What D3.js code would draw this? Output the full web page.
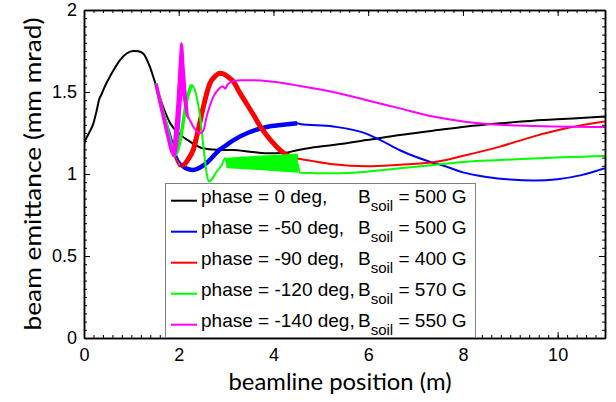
<!DOCTYPE html>
<html>
  <head>
    <title>Beam emittance</title>
    <script type="text/javascript" src="https://cdn.jsdelivr.net/npm/d3@7"></script>
    <style>
      body { margin: 0; background: white; }
      .tick text { font-family: "Liberation Sans", Arial, sans-serif; font-size: 18px; fill: black; }
      .title { font-family: Lato, "Open Sans", sans-serif; font-size: 24px; fill: black; }
      .legend text { font-family: "Liberation Sans", Arial, sans-serif; font-size: 19px; fill: black; }
    </style>
  </head>

  <body>
    <svg width="616" height="402" class="chart"></svg>

    <script type="text/javascript">
      // values
      var blackX = [0, 0.02, 0.07, 0.2, 0.27, 0.32, 0.36, 0.45, 0.55, 0.76, 0.9, 1.04, 1.15, 1.25, 1.39, 1.53, 1.67, 1.82, 2.03, 2.24, 2.51, 2.8, 3.15, 3.5, 3.86, 4.2, 4.5, 4.8, 5.26, 5.97, 6.67, 7.37, 8.08, 8.78, 9.48, 10.2, 11];
      var blackY = [1.18, 1.2, 1.23, 1.31, 1.39, 1.455, 1.48, 1.54, 1.595, 1.695, 1.735, 1.75, 1.748, 1.735, 1.655, 1.53, 1.41, 1.31, 1.24, 1.197, 1.157, 1.148, 1.146, 1.136, 1.126, 1.128, 1.145, 1.16, 1.177, 1.207, 1.238, 1.264, 1.29, 1.309, 1.325, 1.337, 1.35];

      var blueX = [1.52, 1.6, 1.7, 1.8, 1.9, 1.96, 2.05, 2.15, 2.3, 2.45, 2.6, 2.75, 2.85, 3.0, 3.15, 3.5, 3.86, 4.2, 4.5, 4.56, 5.26, 5.97, 6.3, 6.67, 7.0, 7.3, 7.6, 8.0, 8.5, 9.0, 9.5, 10, 10.5, 11];
      var blueY = [1.54, 1.45, 1.35, 1.26, 1.16, 1.105, 1.06, 1.035, 1.025, 1.04, 1.07, 1.115, 1.145, 1.175, 1.205, 1.256, 1.287, 1.3, 1.31, 1.305, 1.29, 1.245, 1.2, 1.145, 1.105, 1.075, 1.05, 1.01, 0.982, 0.966, 0.96, 0.968, 0.993, 1.035];

      var redX = [1.52, 1.6, 1.7, 1.8, 1.9, 1.98, 2.03, 2.1, 2.2, 2.31, 2.42, 2.52, 2.6, 2.66, 2.75, 2.87, 2.95, 3.05, 3.15, 3.3, 3.43, 3.6, 3.72, 3.86, 4.0, 4.14, 4.28, 4.42, 4.5, 4.8, 5.26, 5.97, 6.67, 7.37, 8.08, 8.78, 9.48, 10.2, 11];
      var redY = [1.54, 1.43, 1.32, 1.21, 1.12, 1.065, 1.045, 1.05, 1.09, 1.15, 1.28, 1.41, 1.5, 1.553, 1.59, 1.615, 1.61, 1.59, 1.565, 1.49, 1.43, 1.35, 1.29, 1.235, 1.187, 1.146, 1.116, 1.1, 1.095, 1.08, 1.059, 1.047, 1.057, 1.071, 1.116, 1.167, 1.228, 1.28, 1.32];

      var greenX = [1.52, 1.6, 1.75, 1.85, 1.92, 2.03, 2.17, 2.27, 2.38, 2.45, 2.52, 2.59, 2.64, 2.72, 2.8, 2.9, 2.98, 3.02, 3.3, 3.6, 3.9, 4.2, 4.5, 4.56, 5.26, 5.97, 6.67, 7.37, 8.08, 8.78, 9.48, 11];
      var greenY = [1.553, 1.45, 1.29, 1.17, 1.116, 1.207, 1.45, 1.543, 1.47, 1.35, 1.17, 1.004, 0.954, 0.975, 1.015, 1.05, 1.096, 1.065, 1.065, 1.068, 1.07, 1.068, 1.065, 1.008, 1.004, 1.014, 1.035, 1.055, 1.075, 1.085, 1.095, 1.11];
      // oscillating band of the green curve
      var greenBandX = [3.02, 3.3, 3.6, 3.9, 4.2, 4.5];
      var greenBandLo = [1.04, 1.035, 1.03, 1.025, 1.018, 1.012];
      var greenBandHi = [1.095, 1.1, 1.105, 1.11, 1.115, 1.12];

      var magentaX = [1.52, 1.6, 1.7, 1.78, 1.85, 1.92, 1.99, 2.04, 2.08, 2.13, 2.17, 2.25, 2.35, 2.45, 2.52, 2.59, 2.73, 2.85, 2.93, 2.98, 3.03, 3.1, 3.3, 3.6, 4.0, 4.56, 5.26, 5.97, 6.67, 7.37, 8.08, 8.78, 9.5, 11];
      var magentaY = [1.55, 1.45, 1.32, 1.22, 1.14, 1.11, 1.38, 1.58, 1.64, 1.47, 1.38, 1.32, 1.27, 1.248, 1.265, 1.35, 1.47, 1.52, 1.535, 1.52, 1.545, 1.56, 1.572, 1.572, 1.562, 1.537, 1.5, 1.45, 1.4, 1.35, 1.317, 1.3, 1.293, 1.287];
      // spiky part of the magenta curve
      var magentaBandX = [1.88, 1.93, 1.98, 2.02, 2.05, 2.08, 2.11, 2.15, 2.19];
      var magentaBandLo = [1.11, 1.12, 1.2, 1.32, 1.45, 1.5, 1.45, 1.38, 1.34];
      var magentaBandHi = [1.16, 1.3, 1.5, 1.7, 1.8, 1.78, 1.65, 1.5, 1.38];

      var legendPhase = ['phase = 0 deg,', 'phase = -50 deg,', 'phase = -90 deg,', 'phase = -120 deg,', 'phase = -140 deg,'];
      var legendField = ['500', '500', '400', '570', '550'];
      var colors = ['#000000', '#0000ff', '#ff0000', '#00ff00', '#ff00ff'];

      var xTicks = [0, 2, 4, 6, 8, 10];
      var yTicks = [0, 0.5, 1, 1.5, 2];

      var svg = d3.select('svg.chart');
      var x = d3.scaleLinear().domain([0, 11]).range([84, 605]);
      var y = d3.scaleLinear().domain([0, 2]).range([338, 10]);

      svg.append('clipPath').attr('id', 'plot')
         .append('rect').attr('x', 84).attr('y', 10).attr('width', 521).attr('height', 328);

      // curves
      var series = [
        { xs: blackX, ys: blackY, thick: null },
        { xs: blueX, ys: blueY, thick: [2.0, 4.5, 4.5] },
        { xs: redX, ys: redY, thick: [2.05, 4.5, 5] },
        { xs: greenX, ys: greenY, thick: [1.52, 2.3, 3.5], band: [greenBandX, greenBandLo, greenBandHi] },
        { xs: magentaX, ys: magentaY, thick: [1.52, 1.92, 3.5], band: [magentaBandX, magentaBandLo, magentaBandHi] }
      ];

      var line = d3.line()
                   .x(function(d) { return x(d[0]); })
                   .y(function(d) { return y(d[1]); })
                   .curve(d3.curveMonotoneX);
      var area = d3.area()
                   .x(function(d) { return x(d[0]); })
                   .y0(function(d) { return y(d[1]); })
                   .y1(function(d) { return y(d[2]); })
                   .curve(d3.curveMonotoneX);

      var g = svg.append('g').attr('clip-path', 'url(#plot)');
      series.forEach(function(s, i) {
        var pts = s.xs.map(function(v, j) { return [v, s.ys[j]]; });
        g.append('path').attr('d', line(pts))
         .attr('fill', 'none').attr('stroke', colors[i]).attr('stroke-width', 2);
        if (s.thick) {
          var seg = pts.filter(function(p) { return p[0] >= s.thick[0] && p[0] <= s.thick[1]; });
          g.append('path').attr('d', line(seg))
           .attr('fill', 'none').attr('stroke', colors[i]).attr('stroke-width', s.thick[2]);
        }
        if (s.band) {
          var b = s.band[0].map(function(v, j) { return [v, s.band[1][j], s.band[2][j]]; });
          g.append('path').attr('d', area(b))
           .attr('fill', colors[i]).attr('stroke', colors[i]).attr('stroke-width', 1.5);
        }
      });

      // axes, ticks pointing inward on all four sides
      var xMinor = d3.range(0, 11.001, 0.2);
      var yMinor = d3.range(0, 2.001, 0.05);
      function frame(sel) { sel.select('.domain').attr('stroke', 'black').attr('stroke-width', 1.5); }

      svg.append('g').attr('transform', 'translate(0,338)')
         .call(d3.axisBottom(x).tickValues(xMinor).tickSize(-3).tickSizeOuter(0).tickFormat(''))
         .call(frame);
      svg.append('g').attr('transform', 'translate(0,338)')
         .call(d3.axisBottom(x).tickValues(xTicks).tickSize(-6).tickSizeOuter(0).tickPadding(10).tickFormat(d3.format('d')))
         .call(frame);
      svg.append('g').attr('transform', 'translate(0,10)')
         .call(d3.axisTop(x).tickValues(xMinor).tickSize(-3).tickSizeOuter(0).tickFormat(''))
         .call(frame);
      svg.append('g').attr('transform', 'translate(0,10)')
         .call(d3.axisTop(x).tickValues(xTicks).tickSize(-6).tickSizeOuter(0).tickFormat(''))
         .call(frame);

      svg.append('g').attr('transform', 'translate(84,0)')
         .call(d3.axisLeft(y).tickValues(yMinor).tickSize(-3).tickSizeOuter(0).tickFormat(''))
         .call(frame);
      svg.append('g').attr('transform', 'translate(84,0)')
         .call(d3.axisLeft(y).tickValues(yTicks).tickSize(-6).tickSizeOuter(0).tickPadding(7).tickFormat(function(d) { return d; }))
         .call(frame);
      svg.append('g').attr('transform', 'translate(605,0)')
         .call(d3.axisRight(y).tickValues(yMinor).tickSize(-3).tickSizeOuter(0).tickFormat(''))
         .call(frame);
      svg.append('g').attr('transform', 'translate(605,0)')
         .call(d3.axisRight(y).tickValues(yTicks).tickSize(-6).tickSizeOuter(0).tickFormat(''))
         .call(frame);
      svg.selectAll('.tick line').attr('stroke', 'black').attr('stroke-width', 1);

      // axis titles
      svg.append('text').attr('class', 'title')
         .attr('x', 340).attr('y', 390).attr('text-anchor', 'middle')
         .attr('textLength', 223).attr('lengthAdjust', 'spacingAndGlyphs')
         .text('beamline position (m)');
      svg.append('text').attr('class', 'title')
         .attr('transform', 'translate(41,174) rotate(-90)').attr('text-anchor', 'middle')
         .attr('textLength', 313).attr('lengthAdjust', 'spacingAndGlyphs')
         .text('beam emittance (mm mrad)');

      // legend
      var legend = svg.append('g').attr('class', 'legend');
      legend.append('rect').attr('x', 165.5).attr('y', 183.5).attr('width', 310).attr('height', 154)
            .attr('fill', 'white').attr('stroke', '#7f7f7f').attr('stroke-width', 1);
      legendPhase.forEach(function(label, i) {
        var ly = 200.7 + i * 31;
        legend.append('line').attr('x1', 171).attr('x2', 197).attr('y1', ly).attr('y2', ly)
              .attr('stroke', colors[i]).attr('stroke-width', 2);
        var t = legend.append('text').attr('x', 201).attr('y', ly + 2);
        var first = t.append('tspan').text(label);
        var end = 201 + first.node().getComputedTextLength();
        t.append('tspan').attr('x', Math.max(end, 358)).text('B');
        t.append('tspan').attr('dy', 8).style('font-size', '15px').text('soil');
        t.append('tspan').attr('dy', -8).text(' = ' + legendField[i] + ' G');
      });
    </script>
  </body>
</html>
